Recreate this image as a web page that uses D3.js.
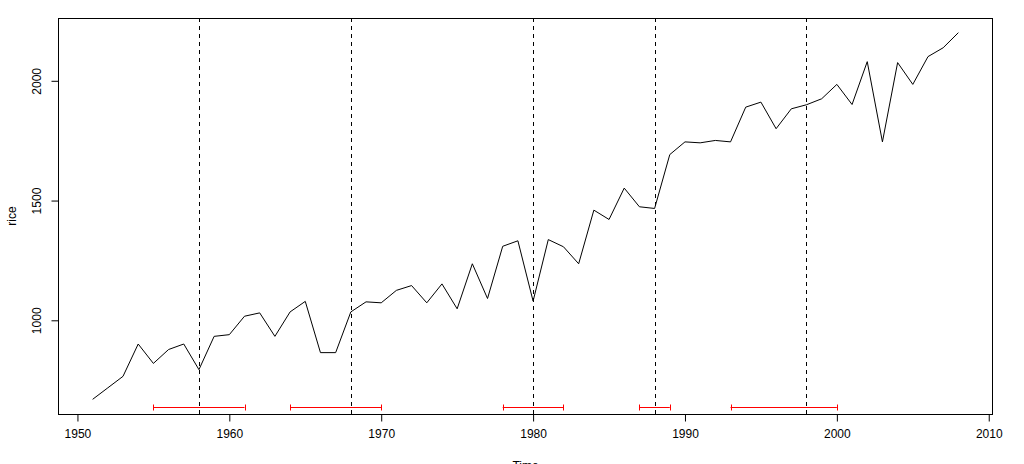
<!DOCTYPE html>
<html><head><meta charset="utf-8">
<script src="https://cdn.jsdelivr.net/npm/d3@7"></script>
<style>body{margin:0;background:#fff}svg{display:block;font-family:"Liberation Sans",Arial,sans-serif}</style>
</head><body><svg id="c" width="1024" height="464"></svg>
<script>
const years = d3.range(1951, 2009);
const rice = [670,718,766,901,820,878,901,794,933,940,1017,1031,933,1035,1079,865,865,1035,1077,1073,1125,1145,1073,1152,1048,1236,1091,1309,1332,1080,1337,1307,1236,1460,1421,1552,1474,1467,1692,1745,1741,1751,1745,1890,1911,1800,1883,1900,1925,1985,1901,2080,1745,2076,1985,2101,2138,2201];
const breaks = [1958,1968,1980,1988,1998];
const ciLower = [1955,1964,1978,1987,1993];
const ciUpper = [1961,1970,1982,1989,2000];
const ciLevel = 639;
const xTicks = [1950,1960,1970,1980,1990,2000,2010];
const yTicks = [1000,1500,2000];

const svg = d3.select("#c");
const L=58, R=993, T=18, B=414;
const xs = d3.extent(years), xr = xs[1]-xs[0];
const ys = d3.extent(rice), yr = ys[1]-ys[0];
const x = d3.scaleLinear().domain([xs[0]-0.04*xr, xs[1]+0.04*xr]).range([L,R]);
const y = d3.scaleLinear().domain([ys[0]-0.04*yr, ys[1]+0.04*yr]).range([B,T]);

// series
svg.append("path").datum(years.map((d,i)=>[d,rice[i]]))
  .attr("fill","none").attr("stroke","#000").attr("stroke-width",1)
  .attr("d", d3.line().x(d=>x(d[0])).y(d=>y(d[1])));

// breakpoints
svg.selectAll("line.bp").data(breaks).join("line").attr("class","bp")
  .attr("x1",d=>Math.round(x(d))+0.5).attr("x2",d=>Math.round(x(d))+0.5)
  .attr("y1",T).attr("y2",B).attr("stroke","#000").attr("stroke-dasharray","4,4");

// confidence intervals
const ciY = Math.round(y(ciLevel))+0.5;
const ci = svg.append("g").attr("stroke","#ff0000").attr("stroke-width",1);
ciLower.forEach((lo,i)=>{
  const hi = ciUpper[i];
  ci.append("line").attr("x1",x(lo)).attr("x2",x(hi)).attr("y1",ciY).attr("y2",ciY);
  [lo,hi].forEach(v=>ci.append("line").attr("x1",Math.round(x(v))+0.5).attr("x2",Math.round(x(v))+0.5).attr("y1",ciY-3).attr("y2",ciY+3));
});

// box
svg.append("rect").attr("x",L+0.5).attr("y",T+0.5).attr("width",R-L-1).attr("height",B-T)
  .attr("fill","none").attr("stroke","#000");

// x axis
const xa = svg.append("g").attr("transform",`translate(0,${B+0.5})`)
  .call(d3.axisBottom(x).tickValues(xTicks).tickFormat(d3.format("d")).tickSize(7).tickPadding(8));
xa.select(".domain").attr("d",`M${Math.round(x(xTicks[0]))+0.5},0H${Math.round(x(xTicks[xTicks.length-1]))+0.5}`);
xa.selectAll("text").attr("font-size","12px").attr("fill","#000").attr("font-family","Liberation Sans,Arial,sans-serif");

// y axis
const ya = svg.append("g").attr("transform",`translate(${L+0.5},0)`)
  .call(d3.axisLeft(y).tickValues(yTicks).tickSize(7).tickPadding(0).tickFormat(d3.format("d")));
ya.select(".domain").attr("d",`M0,${Math.round(y(yTicks[0]))+0.5}V${Math.round(y(yTicks[yTicks.length-1]))+0.5}`);
ya.selectAll(".tick text").attr("font-size","12px").attr("fill","#000").attr("font-family","Liberation Sans,Arial,sans-serif")
  .attr("x",null).attr("dy",null).attr("text-anchor","middle")
  .attr("transform","translate(-21,0) rotate(-90)").attr("dominant-baseline","middle");

// labels
svg.append("text").attr("transform",`translate(13,${(T+B)/2}) rotate(-90)`).attr("text-anchor","middle")
  .attr("dominant-baseline","middle").attr("font-size","12px").text("rice");
svg.append("text").attr("x",(L+R)/2).attr("y",470).attr("text-anchor","middle")
  .attr("font-size","12px").text("Time");
</script></body></html>
